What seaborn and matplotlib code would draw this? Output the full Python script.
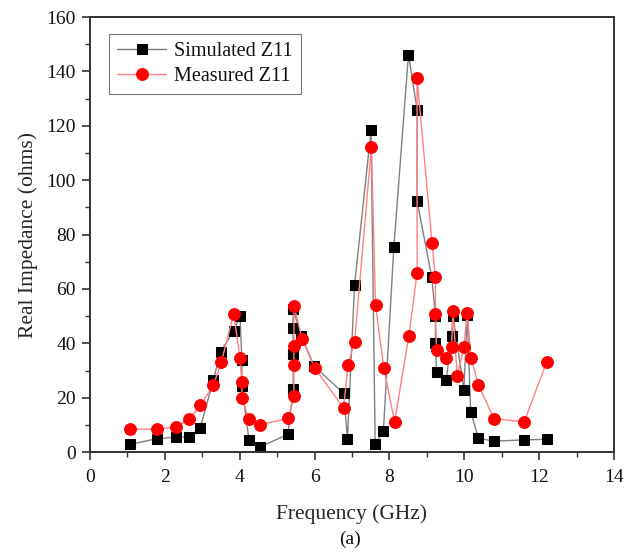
import matplotlib
matplotlib.use("Agg")
import matplotlib.pyplot as plt
from matplotlib.ticker import MultipleLocator
import seaborn as sns

# Simulated Z11 (GHz, ohms)
sim_freq = [1.07, 1.78, 2.29, 2.65, 2.95, 3.30, 3.49, 3.84, 4.01, 4.06, 4.06, 4.25, 4.54,
            5.29, 5.43, 5.43, 5.43, 5.43, 5.65, 5.99, 6.78, 6.88, 7.07, 7.51, 7.62, 7.84,
            8.12, 8.51, 8.74, 8.74, 9.13, 9.23, 9.23, 9.26, 9.52, 9.66, 9.70, 9.99, 10.08,
            10.17, 10.38, 10.79, 11.60, 12.20]
sim_z = [2.8, 4.9, 5.5, 5.6, 9.0, 26.6, 36.9, 44.6, 50.1, 34.0, 24.3, 4.5, 1.9,
         6.5, 23.2, 35.9, 45.5, 52.5, 42.7, 31.6, 21.6, 4.9, 61.5, 118.3, 3.0, 7.6,
         75.6, 146.2, 126.0, 92.3, 64.5, 50.2, 40.1, 29.3, 26.6, 42.6, 50.1, 23.0, 50.3,
         14.9, 5.1, 4.0, 4.5, 4.7]

# Measured Z11 (GHz, ohms)
meas_freq = [1.07, 1.78, 2.29, 2.65, 2.95, 3.30, 3.51, 3.84, 4.01, 4.06, 4.06, 4.25, 4.55,
             5.30, 5.45, 5.45, 5.45, 5.45, 5.67, 6.00, 6.78, 6.89, 7.07, 7.52, 7.63, 7.85,
             8.14, 8.52, 8.74, 8.74, 9.14, 9.23, 9.23, 9.26, 9.52, 9.66, 9.70, 9.81, 9.99,
             10.08, 10.18, 10.38, 10.79, 11.60, 12.20]
meas_z = [8.4, 8.4, 9.2, 12.0, 17.2, 24.6, 33.0, 50.8, 34.6, 25.7, 20.0, 12.0, 10.1,
          12.4, 20.7, 32.0, 39.2, 53.6, 41.7, 31.0, 16.2, 32.0, 40.5, 112.2, 54.0, 31.0,
          11.1, 42.7, 66.0, 137.5, 76.8, 64.3, 50.8, 37.6, 34.6, 38.7, 51.9, 27.9, 38.7,
          51.3, 34.7, 24.7, 12.3, 11.1, 33.1]

sns.set_style("ticks")
plt.rcParams['font.family'] = ['Liberation Serif', 'DejaVu Serif']
plt.rcParams['text.color'] = '#111111'

fig = plt.figure(figsize=(6.33, 5.52), dpi=100)
ax = fig.add_axes([0.142, 0.181, 0.828, 0.788])

sns.lineplot(x=sim_freq, y=sim_z, sort=False, estimator=None, ax=ax,
             color='#808080', lw=1.0, marker='s', markersize=7,
             markerfacecolor='black', markeredgecolor='black',
             label='Simulated Z11')
sns.lineplot(x=meas_freq, y=meas_z, sort=False, estimator=None, ax=ax,
             color='#ff8080', lw=1.0, marker='o', markersize=8.5,
             markerfacecolor='red', markeredgecolor='red',
             label='Measured Z11')

ax.set_xlim(0, 14)
ax.set_ylim(0, 160)
ax.xaxis.set_major_locator(MultipleLocator(2))
ax.xaxis.set_minor_locator(MultipleLocator(1))
ax.yaxis.set_major_locator(MultipleLocator(20))
ax.yaxis.set_minor_locator(MultipleLocator(10))
ax.tick_params(which='major', direction='out', length=6, width=1.2, labelsize=14,
               color='#333333', labelcolor='#111111')
ax.tick_params(axis='x', which='major', pad=6)
ax.tick_params(axis='y', which='major', pad=4)
ax.tick_params(which='minor', direction='out', length=3.5, width=1.0, color='#333333')
for s in ax.spines.values():
    s.set_linewidth(1.4)
    s.set_color('#333333')

ax.set_xlabel("Frequency (GHz)", fontsize=15.5, labelpad=13)
ax.set_ylabel("Real Impedance (ohms)", fontsize=15.5, labelpad=6)

leg = ax.legend(loc='upper left', bbox_to_anchor=(0.018, 0.985), fontsize=14.5,
                frameon=True, fancybox=False, edgecolor='#555555',
                handlelength=2.4, handletextpad=0.4, borderpad=0.4, labelspacing=0.3)
leg.get_frame().set_linewidth(0.8)

fig.text(0.553, 0.015, "(a)", ha='center', fontsize=14)

fig.savefig("out.png", dpi=100)
